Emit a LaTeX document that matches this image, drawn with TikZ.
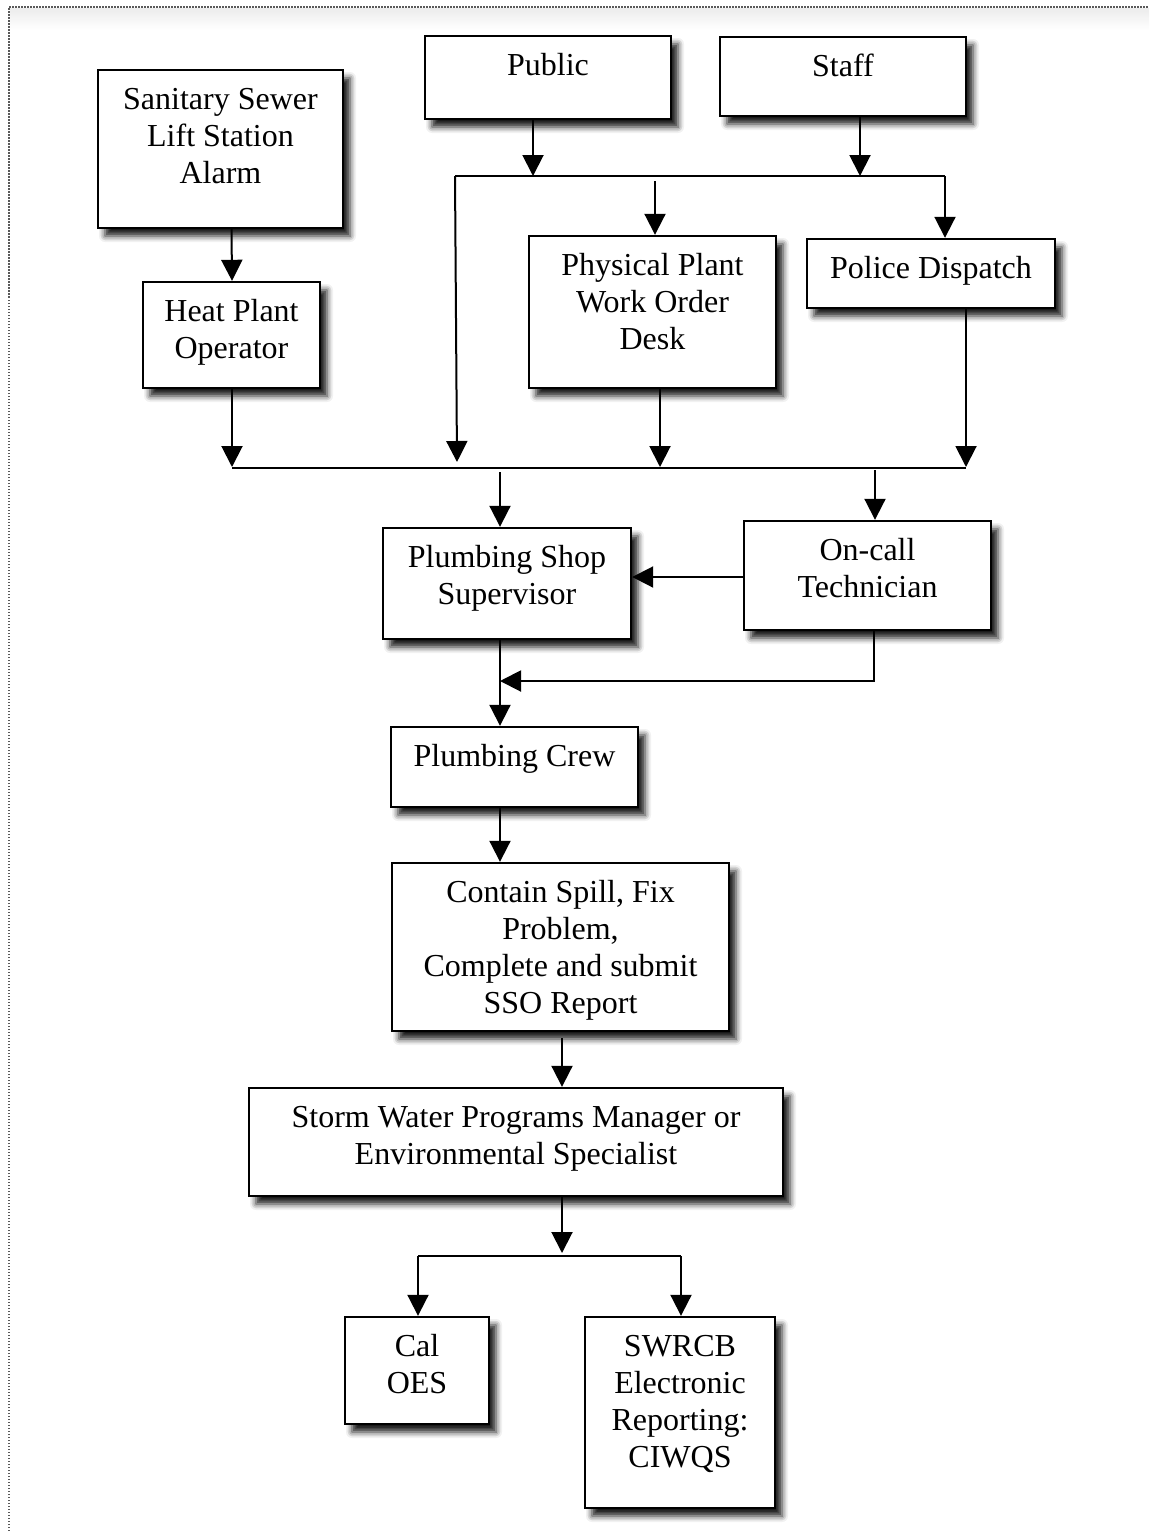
\documentclass[tikz,border=0pt]{standalone}
\usepackage{fontspec}
\setmainfont{Liberation Serif}
\usetikzlibrary{arrows.meta,shadows.blur,calc}
\newcommand\mkbox[6]{%
  \node[box, minimum width={#4-#2}, minimum height={#5-#3}] (#1) at ({(#2+#4)/2},{(#3+#5)/2}) {};
  \node[txt, anchor=north] (#1t) at ([yshift=-14.1pt]#1.north) {\strut #6};
}
\begin{document}
\begin{tikzpicture}[x=1pt,y=-1pt,
  box/.style={draw=black,line width=2.4pt,fill=white,rectangle,inner sep=0pt,
    blur shadow={shadow xshift=7pt,shadow yshift=-8pt,shadow blur radius=6pt,shadow opacity=90}},
  txt/.style={inner sep=0pt,align=center,font=\fontsize{32}{37}\selectfont},
  arr/.style={line width=2pt,-{Triangle[length=21pt,width=21pt]}},
  ln/.style={line width=2pt},
  frame/.style={draw=black!65,line width=1.6pt,dash pattern=on 1.5pt off 1.5pt}]
\useasboundingbox (0,0) rectangle (1149,1531);
\shade[top color=gray!15,bottom color=white,draw=none] (10,8) rectangle (1149,30);
\draw[frame] (9,1531) -- (9,7) -- (1149,7);

\mkbox{san}{98}{70}{343}{228}{Sanitary Sewer\\Lift Station\\Alarm}
\mkbox{pub}{425}{36}{671}{119}{Public}
\mkbox{staff}{720}{37}{966}{116}{Staff}
\mkbox{heat}{143}{282}{320}{388}{Heat Plant\\Operator}
\mkbox{phys}{529}{236}{776}{388}{Physical Plant\\Work Order\\Desk}
\mkbox{pol}{807}{239}{1055}{308}{Police Dispatch}
\mkbox{shop}{383}{528}{631}{639}{Plumbing Shop\\Supervisor}
\mkbox{onc}{744}{521}{991}{630}{On-call\\Technician}
\mkbox{crew}{391}{727}{638}{807}{Plumbing Crew}
\mkbox{cont}{392}{863}{729}{1031}{Contain Spill, Fix\\Problem,\\Complete and submit\\SSO Report}
\mkbox{storm}{249}{1088}{783}{1196}{Storm Water Programs Manager or\\Environmental Specialist}
\mkbox{cal}{345}{1317}{489}{1424}{Cal\\OES}
\mkbox{swr}{585}{1317}{775}{1508}{SWRCB\\Electronic\\Reporting:\\CIWQS}

% junction coordinates
\coordinate (bL) at (455,176);
\coordinate (bR) at (945,176);
\coordinate (pA) at (533,176);
\coordinate (sA) at (860,176);
\coordinate (lT) at (457,462);
\coordinate (phS) at (655,181);
\coordinate (b2L) at (232,468);
\coordinate (b2R) at (966,468);
\coordinate (hA) at (232,467);
\coordinate (dA) at (660,467);
\coordinate (qA) at (966,467);
\coordinate (s2) at (500,472);
\coordinate (o2) at (875,470);
\coordinate (oy) at (744,577);
\coordinate (oc) at (874,681);
\coordinate (ocL) at (500,681);
\coordinate (cS) at (562,1038);
\coordinate (b3) at (562,1253);
\coordinate (b3L) at (418,1256);
\coordinate (b3R) at (681,1256);

% arrows
\draw[arr] (heat.north |- san.south) -- (heat.north -| hA);
\draw[arr] (pub.south -| pA) -- (pA);
\draw[arr] (staff.south -| sA) -- (sA);
\draw[ln] (bL) -- (bR);
\draw[arr] (bL) -- (lT);
\draw[arr] (phS) -- (phys.north -| phS);
\draw[arr] (bR) -- (pol.north -| bR);
\draw[arr] (heat.south -| hA) -- (hA);
\draw[arr] (phys.south -| dA) -- (dA);
\draw[arr] (pol.south -| qA) -- (qA);
\draw[ln] (b2L) -- (b2R);
\draw[arr] (s2) -- (shop.north -| s2);
\draw[arr] (o2) -- (onc.north -| o2);
\draw[arr] (oy) -- (oy -| shop.east);
\draw[arr] (shop.south -| s2) -- (crew.north -| s2);
\draw[arr] (onc.south -| oc) -- (oc) -- (ocL);
\draw[arr] (crew.south -| s2) -- (cont.north -| s2);
\draw[arr] (cS) -- (storm.north -| cS);
\draw[arr] (storm.south -| cS) -- (b3);
\draw[ln] (b3L) -- (b3R);
\draw[arr] (b3L) -- (cal.north -| b3L);
\draw[arr] (b3R) -- (swr.north -| b3R);
\end{tikzpicture}
\end{document}
